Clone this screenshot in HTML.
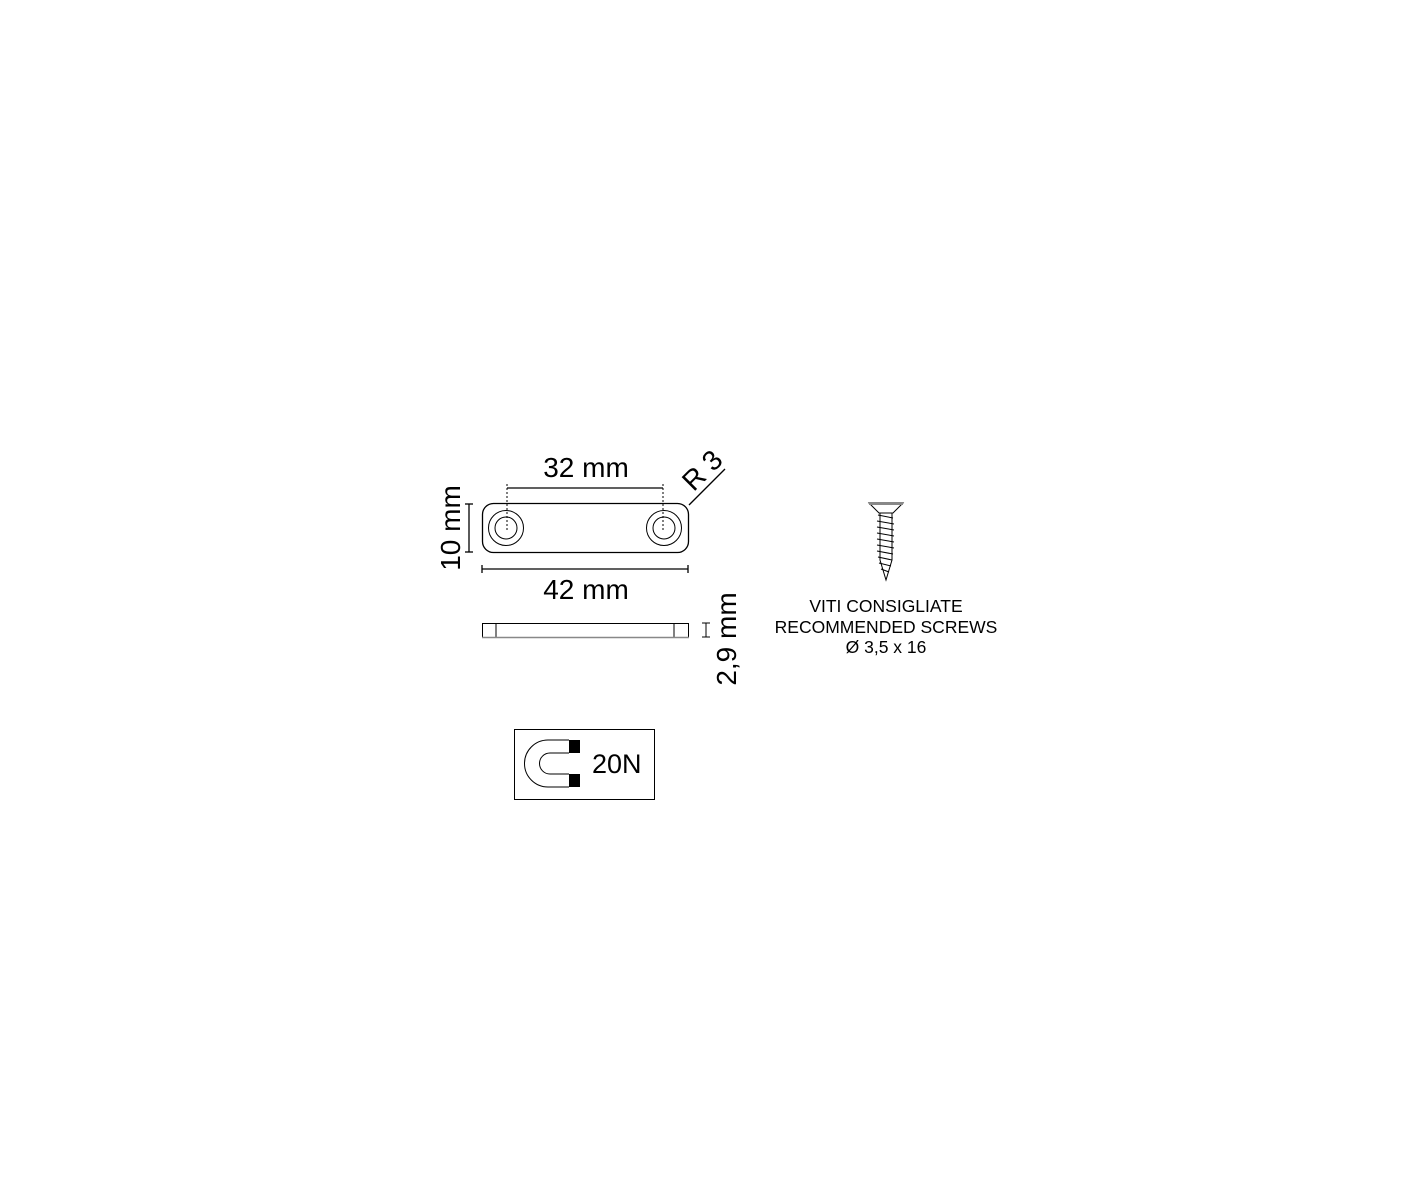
<!DOCTYPE html>
<html><head><style>body{margin:0;background:#fff}svg{display:block}</style></head><body>
<svg width="1417" height="1181" viewBox="0 0 1417 1181" xmlns="http://www.w3.org/2000/svg" font-family="Liberation Sans, sans-serif">
<g fill="none" stroke="#000" stroke-width="1.3">
<rect x="482.5" y="503.5" width="206" height="49" rx="11"/>
<circle cx="506" cy="528" r="17.5" stroke-width="1"/>
<circle cx="506" cy="528" r="11" stroke-width="1"/>
<circle cx="664" cy="528" r="17.5" stroke-width="1"/>
<circle cx="664" cy="528" r="11" stroke-width="1"/>
<line x1="507" y1="488" x2="663" y2="488"/>
<line x1="507" y1="484" x2="507" y2="532" stroke-dasharray="2,2" stroke-width="1"/>
<line x1="663" y1="484" x2="663" y2="532" stroke-dasharray="2,2" stroke-width="1"/>
<line x1="469" y1="504" x2="469" y2="552"/>
<line x1="465" y1="504" x2="473" y2="504"/>
<line x1="465" y1="552" x2="473" y2="552"/>
<line x1="482" y1="569" x2="688" y2="569"/>
<line x1="482" y1="565" x2="482" y2="573"/>
<line x1="688" y1="565" x2="688" y2="573"/>
<line x1="689" y1="505" x2="725" y2="469"/>
<rect x="482.5" y="623.5" width="206" height="14" stroke-width="1"/>
<line x1="496" y1="624" x2="496" y2="637" stroke-width="1"/>
<line x1="674" y1="624" x2="674" y2="637" stroke-width="1"/>
<line x1="482" y1="637.5" x2="689" y2="637.5" stroke="#888" stroke-width="1.5"/>
<line x1="706" y1="623" x2="706" y2="637" stroke-width="1"/>
<line x1="702" y1="623" x2="710" y2="623" stroke-width="1"/>
<line x1="702" y1="637" x2="710" y2="637" stroke-width="1"/>
<rect x="514.5" y="729.5" width="140" height="70" stroke-width="1"/>
<path d="M569 740 H548 A23.5 23.5 0 0 0 548 787 H569" stroke-width="1"/>
<path d="M569 753 H550 A10.5 10.5 0 0 0 550 774 H569" stroke-width="1"/>
</g>
<rect x="569" y="740" width="11" height="13" fill="#000"/>
<rect x="569" y="774" width="11" height="13" fill="#000"/>
<text x="592" y="773" font-size="27">20N</text>
<text x="586" y="477" font-size="28" text-anchor="middle">32 mm</text>
<text x="586" y="599" font-size="28" text-anchor="middle">42 mm</text>
<text transform="translate(460,528) rotate(-90)" font-size="28" text-anchor="middle">10 mm</text>
<text transform="translate(736,639) rotate(-90)" font-size="28" text-anchor="middle">2,9 mm</text>
<text transform="translate(709,477) rotate(-45)" font-size="28" text-anchor="middle">R 3</text>
<g stroke="#000" stroke-width="1" fill="none">
<path d="M869 503 H903 L893 513 H879 Z" fill="#fff"/>
<line x1="869" y1="503.5" x2="903" y2="503.5" stroke="#888" stroke-width="3"/>
<path d="M878 515 L893 518 M877 521 L894 524 M877 527 L894 530 M877 533 L894 536 M877 539 L894 542 M877 545 L894 548 M877 551 L893 554 M878 557 L892 560 M879 563 L891 566 M881 569 L889 572"/>
<path d="M880 513 L880 560 L886 580 L892 560 L892 513"/>
</g>
<g font-size="17.5" text-anchor="middle">
<text x="886" y="612">VITI CONSIGLIATE</text>
<text x="886" y="633">RECOMMENDED SCREWS</text>
<text x="886" y="653">Ø 3,5 x 16</text>
</g>
</svg>
</body></html>
